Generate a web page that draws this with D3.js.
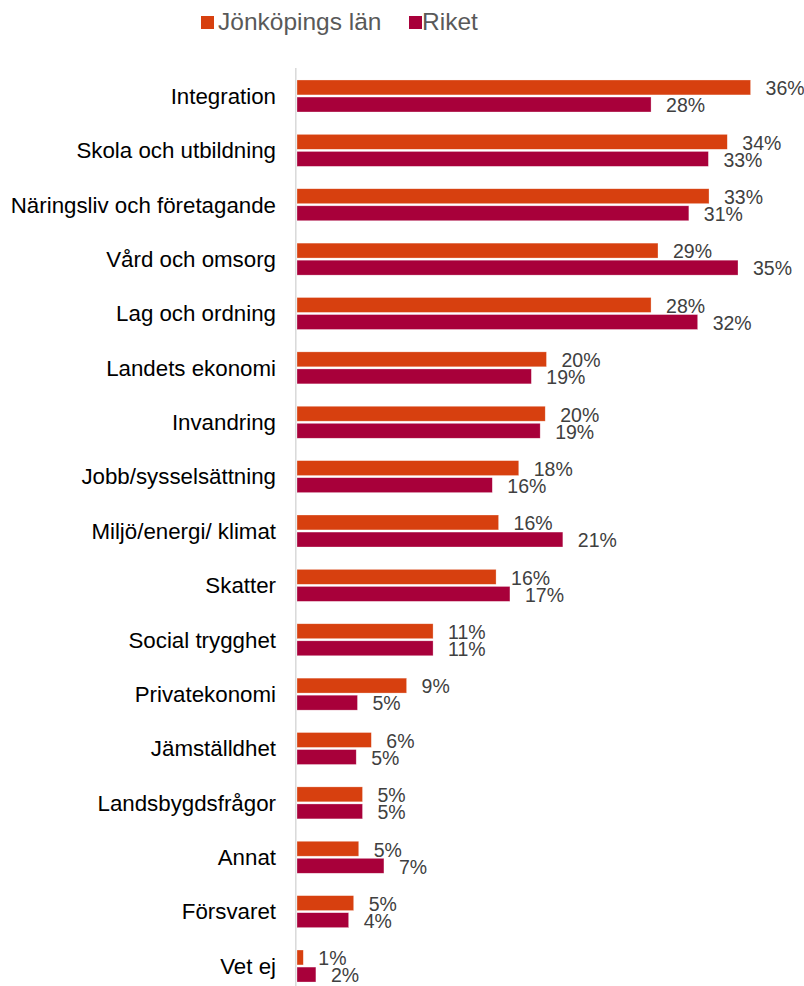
<!DOCTYPE html>
<html>
<head>
<meta charset="utf-8">
<script src="https://cdn.jsdelivr.net/npm/d3@7"></script>
<style>
  html, body { margin: 0; padding: 0; background: #fff; }
  svg { display: block; font-family: "Liberation Sans", Arial, sans-serif; }
</style>
</head>
<body>
<svg id="chart" width="804" height="986"></svg>
<script>
const categories = [
  "Integration", "Skola och utbildning", "Näringsliv och företagande", "Vård och omsorg",
  "Lag och ordning", "Landets ekonomi", "Invandring", "Jobb/sysselsättning",
  "Miljö/energi/ klimat", "Skatter", "Social trygghet", "Privatekonomi",
  "Jämställdhet", "Landsbygdsfrågor", "Annat", "Försvaret", "Vet ej"
];
const seriesNames = ["Jönköpings län", "Riket"];
const jonkoping = [36.0, 34.15, 32.7, 28.65, 28.1, 19.8, 19.7, 17.6, 16.0, 15.8, 10.8, 8.7, 5.9, 5.2, 4.9, 4.5, 0.5];
const riket     = [28.1, 32.65, 31.1, 35.0, 31.8, 18.6, 19.3, 15.5, 21.1, 16.9, 10.8, 4.8, 4.7, 5.2, 6.9, 4.1, 1.5];
const colors = ["#D7400F", "#A8003A"];

const svg = d3.select("#chart");

const x = d3.scaleLinear().domain([0, 36]).range([297, 750.6]);
const y = d3.scaleBand().domain(categories).range([68.8, 993.2]).paddingInner(0).paddingOuter(0);
const sub = d3.scaleBand().domain(seriesNames).range([-16, 16]).paddingInner(4 / 32);

// axis line
svg.append("line")
  .attr("x1", 295.8).attr("x2", 295.8)
  .attr("y1", 68).attr("y2", 986)
  .attr("stroke", "#d9d9d9").attr("stroke-width", 1.5);

// category labels
const yAxis = d3.axisLeft(y).tickSize(0).tickPadding(0);
const ga = svg.append("g").attr("transform", "translate(276,0)").call(yAxis);
ga.select(".domain").remove();
ga.selectAll("text")
  .attr("font-size", 22.3)
  .attr("fill", "#000")
  .attr("font-family", "Liberation Sans, Arial, sans-serif")
  .attr("dy", "0.35em");

const series = [jonkoping, riket];
series.forEach((vals, si) => {
  const g = svg.append("g");
  const name = seriesNames[si];
  g.selectAll("rect").data(vals).join("rect")
    .attr("x", x(0))
    .attr("y", (d, i) => y(categories[i]) + y.bandwidth() / 2 + sub(name))
    .attr("width", d => x(d) - x(0))
    .attr("height", sub.bandwidth())
    .attr("fill", colors[si])
    .attr("stroke", "#fff").attr("stroke-opacity", 0.5).attr("stroke-width", 0.6);
  g.selectAll("text").data(vals).join("text")
    .attr("x", d => x(d) + 15)
    .attr("y", (d, i) => y(categories[i]) + y.bandwidth() / 2 + sub(name) + sub.bandwidth() / 2 + 0.8)
    .attr("dy", "0.36em")
    .attr("font-size", 19.5)
    .attr("fill", "#404040")
    .text(d => Math.round(d) + "%");
});

// legend
const legendX = [201, 409];
seriesNames.forEach((name, i) => {
  svg.append("rect")
    .attr("x", legendX[i]).attr("y", 16)
    .attr("width", 13).attr("height", 13)
    .attr("fill", colors[i]);
  svg.append("text")
    .attr("x", legendX[i] + (i === 0 ? 17 : 13)).attr("y", 30)
    .attr("font-size", 24.5)
    .attr("fill", "#595959")
    .text(name);
});
</script>
</body>
</html>
